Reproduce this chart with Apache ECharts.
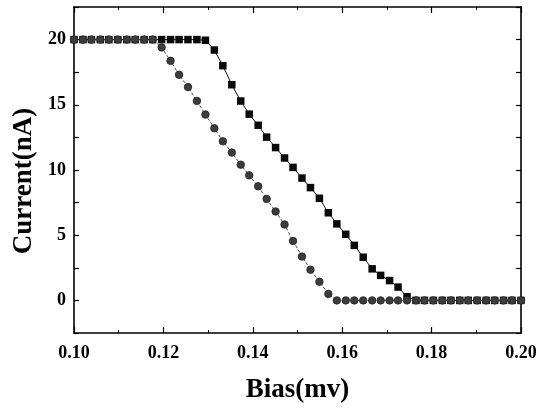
<!DOCTYPE html>
<html>
<head>
<meta charset="utf-8">
<script src="https://cdn.jsdelivr.net/npm/echarts@6/dist/echarts.min.js"></script>
<style>
html,body{margin:0;padding:0;background:#fff;}
#chart{width:549px;height:409px;}
</style>
</head>
<body>
<div id="chart"></div>
<script>
// Bias (mV) sample positions
var bias = [0.1000,0.1020,0.1039,0.1059,0.1078,0.1098,0.1118,0.1137,0.1157,0.1176,
  0.1196,0.1216,0.1235,0.1255,0.1275,0.1294,0.1314,0.1333,0.1353,0.1373,
  0.1392,0.1412,0.1431,0.1451,0.1471,0.1490,0.1510,0.1529,0.1549,0.1569,
  0.1588,0.1608,0.1627,0.1647,0.1667,0.1686,0.1706,0.1725,0.1745,0.1765,
  0.1784,0.1804,0.1824,0.1843,0.1863,0.1882,0.1902,0.1922,0.1941,0.1961,
  0.1980,0.2000];
// Square series current (nA)
var currentSquares = [20,20,20,20,20,20,20,20,20,20,
  20,20,20,20,20,19.95,19.2,18.0,16.54,15.29,
  14.28,13.43,12.52,11.72,10.92,10.2,9.38,8.65,7.83,6.72,
  5.87,5.07,4.22,3.31,2.42,1.92,1.52,1.02,0.28,0,
  0,0,0,0,0,0,0,0,0,0,0,0];
// Circle series current (nA)
var currentCircles = [20,20,20,20,20,20,20,20,20,20,
  19.4,18.37,17.3,16.36,15.3,14.25,13.2,12.2,11.34,10.41,
  9.59,8.75,7.78,6.82,5.82,4.56,3.36,2.36,1.43,0.5,
  0,0,0,0,0,0,0,0,0,0,
  0,0,0,0,0,0,0,0,0,0,0,0];
var xTicks = [0.10,0.12,0.14,0.16,0.18,0.20];
var yTicks = [0,5,10,15,20];

function pairs(ys){ return bias.map(function(x,i){ return [x, ys[i]]; }); }

var FONT = '"Liberation Serif","Times New Roman",serif';
var chart = echarts.init(document.getElementById('chart'), null, {renderer:'canvas'});
var axisLine = {show:true, onZero:false, lineStyle:{color:'#000', width:1.6}};
chart.setOption({
  animation:false,
  backgroundColor:'#fff',
  grid:{left:74, right:28, top:7, bottom:68, containLabel:false},
  xAxis:[{
    type:'value', min:0.1, max:0.2, interval:0.02,
    name:'Bias(mv)', nameLocation:'middle', nameGap:44,
    nameTextStyle:{fontFamily:FONT, fontWeight:'bold', fontSize:27, color:'#000'},
    axisLine:axisLine,
    axisTick:{show:true, inside:true, length:6, lineStyle:{color:'#000', width:1.2}},
    minorTick:{show:true, splitNumber:2, length:3, lineStyle:{color:'#000', width:1}},
    splitLine:{show:false},
    axisLabel:{margin:11, fontFamily:FONT, fontWeight:'bold', fontSize:18, color:'#000',
      formatter:function(v){
        for (var i=0;i<xTicks.length;i++){ if (Math.abs(v-xTicks[i])<1e-6) return xTicks[i].toFixed(2); }
        return '';
      }}
  },{
    type:'value', position:'top', min:0.1, max:0.2, interval:0.02,
    axisLine:axisLine,
    axisTick:{show:true, inside:true, length:6, lineStyle:{color:'#000', width:1.2}},
    minorTick:{show:true, splitNumber:2, length:3, lineStyle:{color:'#000', width:1}},
    splitLine:{show:false}, axisLabel:{show:false}
  }],
  yAxis:[{
    type:'value', min:-2.5, max:22.5, interval:2.5,
    name:'Current(nA)', nameLocation:'middle', nameGap:33, nameRotate:90,
    nameTextStyle:{fontFamily:FONT, fontWeight:'bold', fontSize:27, color:'#000', padding:[0,22,0,0]},
    axisLine:axisLine,
    axisTick:{show:true, inside:true, length:5, lineStyle:{color:'#000', width:1.2}},
    splitLine:{show:false},
    axisLabel:{margin:8, fontFamily:FONT, fontWeight:'bold', fontSize:18, color:'#000',
      formatter:function(v){
        for (var i=0;i<yTicks.length;i++){ if (Math.abs(v-yTicks[i])<1e-6) return String(yTicks[i]); }
        return '';
      }}
  },{
    type:'value', position:'right', min:-2.5, max:22.5, interval:2.5,
    axisLine:axisLine,
    axisTick:{show:true, inside:true, length:5, lineStyle:{color:'#000', width:1.2}},
    splitLine:{show:false}, axisLabel:{show:false}
  }],
  series:[{
    type:'line', name:'squares', data:pairs(currentSquares),
    symbol:'rect', symbolSize:7.5,
    itemStyle:{color:'#0a0a0a'},
    lineStyle:{color:'#111', width:1},
    z:2
  },{
    type:'line', name:'circles', data:pairs(currentCircles),
    symbol:'circle', symbolSize:7.5,
    itemStyle:{color:'#3c3c3c', borderColor:'#222', borderWidth:0.8},
    lineStyle:{color:'#444', width:1, type:[3,2]},
    z:3
  }]
});
</script>
</body>
</html>
